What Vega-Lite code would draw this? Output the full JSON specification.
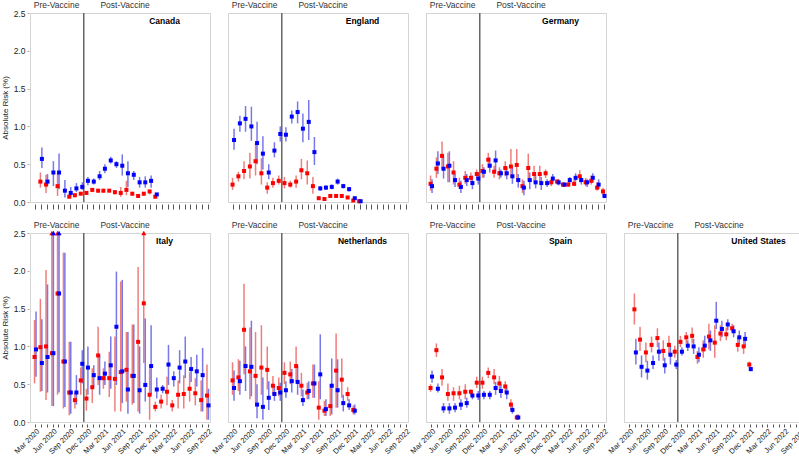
{
  "$schema": "https://vega.github.io/schema/vega-lite/v6.json",
  "padding": {"left": 1, "top": 0, "right": 0, "bottom": 0},
  "config": {
    "font": "Liberation Sans",
    "view": {"stroke": "#d4d4d4"},
    "axis": {"grid": false, "titleFontWeight": "normal", "labelColor": "#222", "titleColor": "#222"},
    "axisY": {"labelOverlap": false, "labelBound": false, "labelFlush": false}
  },
  "data": {"values": [
    {"country":"Canada","group":"A","month":"2020-04-01","risk":0.57,"lo":0.45,"hi":0.72},
    {"country":"Canada","group":"A","month":"2020-05-01","risk":0.27,"lo":0.21,"hi":0.37},
    {"country":"Canada","group":"A","month":"2020-06-01","risk":0.39,"lo":0.21,"hi":0.54},
    {"country":"Canada","group":"A","month":"2020-07-01","risk":0.39,"lo":0.17,"hi":0.64},
    {"country":"Canada","group":"A","month":"2020-08-01","risk":0.15,"lo":0.06,"hi":0.29},
    {"country":"Canada","group":"A","month":"2020-09-01","risk":0.12,"lo":0.07,"hi":0.20},
    {"country":"Canada","group":"A","month":"2020-10-01","risk":0.18,"lo":0.13,"hi":0.25},
    {"country":"Canada","group":"A","month":"2020-11-01","risk":0.20,"lo":0.16,"hi":0.26},
    {"country":"Canada","group":"A","month":"2020-12-01","risk":0.28,"lo":0.22,"hi":0.33},
    {"country":"Canada","group":"A","month":"2021-01-01","risk":0.27,"lo":0.23,"hi":0.31},
    {"country":"Canada","group":"A","month":"2021-02-01","risk":0.34,"lo":0.29,"hi":0.41},
    {"country":"Canada","group":"A","month":"2021-03-01","risk":0.44,"lo":0.38,"hi":0.50},
    {"country":"Canada","group":"A","month":"2021-04-01","risk":0.55,"lo":0.51,"hi":0.60},
    {"country":"Canada","group":"A","month":"2021-05-01","risk":0.50,"lo":0.45,"hi":0.54},
    {"country":"Canada","group":"A","month":"2021-06-01","risk":0.48,"lo":0.35,"hi":0.63},
    {"country":"Canada","group":"A","month":"2021-07-01","risk":0.38,"lo":0.20,"hi":0.54},
    {"country":"Canada","group":"A","month":"2021-08-01","risk":0.36,"lo":0.29,"hi":0.41},
    {"country":"Canada","group":"A","month":"2021-09-01","risk":0.26,"lo":0.19,"hi":0.33},
    {"country":"Canada","group":"A","month":"2021-10-01","risk":0.26,"lo":0.19,"hi":0.34},
    {"country":"Canada","group":"A","month":"2021-11-01","risk":0.28,"lo":0.19,"hi":0.35},
    {"country":"Canada","group":"A","month":"2021-12-01","risk":0.10,"lo":0.08,"hi":0.12},
    {"country":"Canada","group":"B","month":"2020-04-01","risk":0.27,"lo":0.19,"hi":0.39},
    {"country":"Canada","group":"B","month":"2020-05-01","risk":0.23,"lo":0.12,"hi":0.36},
    {"country":"Canada","group":"B","month":"2020-07-01","risk":0.21,"lo":0.08,"hi":0.39},
    {"country":"Canada","group":"B","month":"2020-09-01","risk":0.07,"lo":0.05,"hi":0.10},
    {"country":"Canada","group":"B","month":"2020-10-01","risk":0.09,"lo":0.06,"hi":0.11},
    {"country":"Canada","group":"B","month":"2020-11-01","risk":0.11,"lo":0.09,"hi":0.13},
    {"country":"Canada","group":"B","month":"2020-12-01","risk":0.12,"lo":0.10,"hi":0.14},
    {"country":"Canada","group":"B","month":"2021-01-01","risk":0.16,"lo":0.13,"hi":0.18},
    {"country":"Canada","group":"B","month":"2021-02-01","risk":0.15,"lo":0.12,"hi":0.17},
    {"country":"Canada","group":"B","month":"2021-03-01","risk":0.15,"lo":0.12,"hi":0.17},
    {"country":"Canada","group":"B","month":"2021-04-01","risk":0.15,"lo":0.13,"hi":0.17},
    {"country":"Canada","group":"B","month":"2021-05-01","risk":0.13,"lo":0.10,"hi":0.16},
    {"country":"Canada","group":"B","month":"2021-06-01","risk":0.12,"lo":0.07,"hi":0.20},
    {"country":"Canada","group":"B","month":"2021-07-01","risk":0.16,"lo":0.09,"hi":0.28},
    {"country":"Canada","group":"B","month":"2021-08-01","risk":0.11,"lo":0.08,"hi":0.13},
    {"country":"Canada","group":"B","month":"2021-09-01","risk":0.08,"lo":0.06,"hi":0.10},
    {"country":"Canada","group":"B","month":"2021-10-01","risk":0.11,"lo":0.08,"hi":0.13},
    {"country":"Canada","group":"B","month":"2021-11-01","risk":0.14,"lo":0.10,"hi":0.16},
    {"country":"Canada","group":"B","month":"2021-12-01","risk":0.07,"lo":0.05,"hi":0.08},

    {"country":"England","group":"A","month":"2020-03-01","risk":0.82,"lo":0.69,"hi":0.97},
    {"country":"England","group":"A","month":"2020-04-01","risk":1.04,"lo":0.93,"hi":1.14},
    {"country":"England","group":"A","month":"2020-05-01","risk":1.10,"lo":0.93,"hi":1.27},
    {"country":"England","group":"A","month":"2020-06-01","risk":1.00,"lo":0.81,"hi":1.26},
    {"country":"England","group":"A","month":"2020-07-01","risk":0.78,"lo":0.50,"hi":1.06},
    {"country":"England","group":"A","month":"2020-08-01","risk":0.64,"lo":0.43,"hi":0.87},
    {"country":"England","group":"A","month":"2020-09-01","risk":0.39,"lo":0.30,"hi":0.50},
    {"country":"England","group":"A","month":"2020-10-01","risk":0.68,"lo":0.59,"hi":0.79},
    {"country":"England","group":"A","month":"2020-11-01","risk":0.90,"lo":0.80,"hi":1.00},
    {"country":"England","group":"A","month":"2020-12-01","risk":0.89,"lo":0.80,"hi":0.99},
    {"country":"England","group":"A","month":"2021-01-01","risk":1.13,"lo":1.04,"hi":1.21},
    {"country":"England","group":"A","month":"2021-02-01","risk":1.19,"lo":1.04,"hi":1.33},
    {"country":"England","group":"A","month":"2021-03-01","risk":0.97,"lo":0.79,"hi":1.17},
    {"country":"England","group":"A","month":"2021-04-01","risk":1.06,"lo":0.82,"hi":1.35},
    {"country":"England","group":"A","month":"2021-05-01","risk":0.66,"lo":0.49,"hi":0.86},
    {"country":"England","group":"A","month":"2021-06-01","risk":0.18,"lo":0.15,"hi":0.21},
    {"country":"England","group":"A","month":"2021-07-01","risk":0.19,"lo":0.16,"hi":0.22},
    {"country":"England","group":"A","month":"2021-08-01","risk":0.20,"lo":0.17,"hi":0.23},
    {"country":"England","group":"A","month":"2021-09-01","risk":0.27,"lo":0.23,"hi":0.31},
    {"country":"England","group":"A","month":"2021-10-01","risk":0.21,"lo":0.18,"hi":0.24},
    {"country":"England","group":"A","month":"2021-11-01","risk":0.17,"lo":0.14,"hi":0.20},
    {"country":"England","group":"A","month":"2021-12-01","risk":0.05,"lo":0.03,"hi":0.07},
    {"country":"England","group":"A","month":"2022-01-01","risk":0.01,"lo":0.00,"hi":0.02},
    {"country":"England","group":"B","month":"2020-03-01","risk":0.23,"lo":0.16,"hi":0.32},
    {"country":"England","group":"B","month":"2020-04-01","risk":0.34,"lo":0.27,"hi":0.40},
    {"country":"England","group":"B","month":"2020-05-01","risk":0.41,"lo":0.30,"hi":0.54},
    {"country":"England","group":"B","month":"2020-06-01","risk":0.47,"lo":0.31,"hi":0.65},
    {"country":"England","group":"B","month":"2020-07-01","risk":0.54,"lo":0.35,"hi":0.78},
    {"country":"England","group":"B","month":"2020-08-01","risk":0.38,"lo":0.23,"hi":0.58},
    {"country":"England","group":"B","month":"2020-09-01","risk":0.19,"lo":0.11,"hi":0.26},
    {"country":"England","group":"B","month":"2020-10-01","risk":0.25,"lo":0.19,"hi":0.32},
    {"country":"England","group":"B","month":"2020-11-01","risk":0.28,"lo":0.23,"hi":0.35},
    {"country":"England","group":"B","month":"2020-12-01","risk":0.25,"lo":0.18,"hi":0.33},
    {"country":"England","group":"B","month":"2021-01-01","risk":0.23,"lo":0.19,"hi":0.28},
    {"country":"England","group":"B","month":"2021-02-01","risk":0.27,"lo":0.19,"hi":0.35},
    {"country":"England","group":"B","month":"2021-03-01","risk":0.42,"lo":0.30,"hi":0.57},
    {"country":"England","group":"B","month":"2021-04-01","risk":0.38,"lo":0.23,"hi":0.55},
    {"country":"England","group":"B","month":"2021-05-01","risk":0.21,"lo":0.11,"hi":0.33},
    {"country":"England","group":"B","month":"2021-06-01","risk":0.05,"lo":0.03,"hi":0.07},
    {"country":"England","group":"B","month":"2021-07-01","risk":0.04,"lo":0.03,"hi":0.05},
    {"country":"England","group":"B","month":"2021-08-01","risk":0.08,"lo":0.06,"hi":0.10},
    {"country":"England","group":"B","month":"2021-09-01","risk":0.08,"lo":0.06,"hi":0.10},
    {"country":"England","group":"B","month":"2021-10-01","risk":0.08,"lo":0.06,"hi":0.10},
    {"country":"England","group":"B","month":"2021-11-01","risk":0.06,"lo":0.04,"hi":0.08},
    {"country":"England","group":"B","month":"2021-12-01","risk":0.02,"lo":0.01,"hi":0.05},
    {"country":"England","group":"B","month":"2022-01-01","risk":0.01,"lo":0.00,"hi":0.01},

    {"country":"Germany","group":"A","month":"2020-03-01","risk":0.21,"lo":0.12,"hi":0.30},
    {"country":"Germany","group":"A","month":"2020-04-01","risk":0.51,"lo":0.37,"hi":0.67},
    {"country":"Germany","group":"A","month":"2020-05-01","risk":0.44,"lo":0.31,"hi":0.60},
    {"country":"Germany","group":"A","month":"2020-06-01","risk":0.48,"lo":0.26,"hi":0.67},
    {"country":"Germany","group":"A","month":"2020-07-01","risk":0.29,"lo":0.20,"hi":0.37},
    {"country":"Germany","group":"A","month":"2020-08-01","risk":0.20,"lo":0.12,"hi":0.28},
    {"country":"Germany","group":"A","month":"2020-09-01","risk":0.29,"lo":0.21,"hi":0.37},
    {"country":"Germany","group":"A","month":"2020-10-01","risk":0.25,"lo":0.17,"hi":0.35},
    {"country":"Germany","group":"A","month":"2020-11-01","risk":0.31,"lo":0.23,"hi":0.39},
    {"country":"Germany","group":"A","month":"2020-12-01","risk":0.40,"lo":0.32,"hi":0.46},
    {"country":"Germany","group":"A","month":"2021-01-01","risk":0.48,"lo":0.39,"hi":0.59},
    {"country":"Germany","group":"A","month":"2021-02-01","risk":0.55,"lo":0.41,"hi":0.68},
    {"country":"Germany","group":"A","month":"2021-03-01","risk":0.38,"lo":0.32,"hi":0.43},
    {"country":"Germany","group":"A","month":"2021-04-01","risk":0.38,"lo":0.30,"hi":0.46},
    {"country":"Germany","group":"A","month":"2021-05-01","risk":0.34,"lo":0.24,"hi":0.45},
    {"country":"Germany","group":"A","month":"2021-06-01","risk":0.29,"lo":0.19,"hi":0.37},
    {"country":"Germany","group":"A","month":"2021-07-01","risk":0.19,"lo":0.09,"hi":0.28},
    {"country":"Germany","group":"A","month":"2021-08-01","risk":0.29,"lo":0.17,"hi":0.39},
    {"country":"Germany","group":"A","month":"2021-09-01","risk":0.26,"lo":0.18,"hi":0.35},
    {"country":"Germany","group":"A","month":"2021-10-01","risk":0.25,"lo":0.16,"hi":0.33},
    {"country":"Germany","group":"A","month":"2021-11-01","risk":0.25,"lo":0.20,"hi":0.30},
    {"country":"Germany","group":"A","month":"2021-12-01","risk":0.31,"lo":0.26,"hi":0.37},
    {"country":"Germany","group":"A","month":"2022-01-01","risk":0.26,"lo":0.22,"hi":0.30},
    {"country":"Germany","group":"A","month":"2022-02-01","risk":0.23,"lo":0.20,"hi":0.26},
    {"country":"Germany","group":"A","month":"2022-03-01","risk":0.29,"lo":0.24,"hi":0.33},
    {"country":"Germany","group":"A","month":"2022-04-01","risk":0.32,"lo":0.27,"hi":0.38},
    {"country":"Germany","group":"A","month":"2022-05-01","risk":0.29,"lo":0.23,"hi":0.33},
    {"country":"Germany","group":"A","month":"2022-06-01","risk":0.26,"lo":0.20,"hi":0.30},
    {"country":"Germany","group":"A","month":"2022-07-01","risk":0.32,"lo":0.26,"hi":0.38},
    {"country":"Germany","group":"A","month":"2022-08-01","risk":0.23,"lo":0.17,"hi":0.30},
    {"country":"Germany","group":"A","month":"2022-09-01","risk":0.08,"lo":0.05,"hi":0.12},
    {"country":"Germany","group":"B","month":"2020-03-01","risk":0.24,"lo":0.15,"hi":0.35},
    {"country":"Germany","group":"B","month":"2020-04-01","risk":0.44,"lo":0.32,"hi":0.59},
    {"country":"Germany","group":"B","month":"2020-05-01","risk":0.61,"lo":0.43,"hi":0.80},
    {"country":"Germany","group":"B","month":"2020-06-01","risk":0.47,"lo":0.26,"hi":0.65},
    {"country":"Germany","group":"B","month":"2020-07-01","risk":0.39,"lo":0.23,"hi":0.54},
    {"country":"Germany","group":"B","month":"2020-08-01","risk":0.23,"lo":0.17,"hi":0.32},
    {"country":"Germany","group":"B","month":"2020-09-01","risk":0.32,"lo":0.24,"hi":0.41},
    {"country":"Germany","group":"B","month":"2020-10-01","risk":0.32,"lo":0.26,"hi":0.39},
    {"country":"Germany","group":"B","month":"2020-11-01","risk":0.37,"lo":0.31,"hi":0.43},
    {"country":"Germany","group":"B","month":"2020-12-01","risk":0.41,"lo":0.32,"hi":0.50},
    {"country":"Germany","group":"B","month":"2021-01-01","risk":0.56,"lo":0.45,"hi":0.65},
    {"country":"Germany","group":"B","month":"2021-02-01","risk":0.40,"lo":0.32,"hi":0.48},
    {"country":"Germany","group":"B","month":"2021-03-01","risk":0.38,"lo":0.30,"hi":0.46},
    {"country":"Germany","group":"B","month":"2021-04-01","risk":0.45,"lo":0.34,"hi":0.54},
    {"country":"Germany","group":"B","month":"2021-05-01","risk":0.47,"lo":0.32,"hi":0.70},
    {"country":"Germany","group":"B","month":"2021-06-01","risk":0.49,"lo":0.28,"hi":0.70},
    {"country":"Germany","group":"B","month":"2021-07-01","risk":0.21,"lo":0.12,"hi":0.30},
    {"country":"Germany","group":"B","month":"2021-08-01","risk":0.45,"lo":0.28,"hi":0.64},
    {"country":"Germany","group":"B","month":"2021-09-01","risk":0.37,"lo":0.26,"hi":0.48},
    {"country":"Germany","group":"B","month":"2021-10-01","risk":0.37,"lo":0.26,"hi":0.48},
    {"country":"Germany","group":"B","month":"2021-11-01","risk":0.38,"lo":0.32,"hi":0.43},
    {"country":"Germany","group":"B","month":"2021-12-01","risk":0.26,"lo":0.21,"hi":0.30},
    {"country":"Germany","group":"B","month":"2022-01-01","risk":0.27,"lo":0.23,"hi":0.30},
    {"country":"Germany","group":"B","month":"2022-02-01","risk":0.23,"lo":0.20,"hi":0.26},
    {"country":"Germany","group":"B","month":"2022-03-01","risk":0.23,"lo":0.20,"hi":0.27},
    {"country":"Germany","group":"B","month":"2022-04-01","risk":0.24,"lo":0.21,"hi":0.29},
    {"country":"Germany","group":"B","month":"2022-05-01","risk":0.34,"lo":0.26,"hi":0.42},
    {"country":"Germany","group":"B","month":"2022-06-01","risk":0.26,"lo":0.21,"hi":0.32},
    {"country":"Germany","group":"B","month":"2022-07-01","risk":0.28,"lo":0.23,"hi":0.35},
    {"country":"Germany","group":"B","month":"2022-08-01","risk":0.19,"lo":0.15,"hi":0.26},
    {"country":"Germany","group":"B","month":"2022-09-01","risk":0.14,"lo":0.09,"hi":0.19},

    {"country":"Italy","group":"A","month":"2020-03-01","risk":0.96,"lo":0.60,"hi":1.46},
    {"country":"Italy","group":"A","month":"2020-04-01","risk":0.78,"lo":0.41,"hi":1.36},
    {"country":"Italy","group":"A","month":"2020-05-01","risk":0.86,"lo":0.39,"hi":1.82},
    {"country":"Italy","group":"A","month":"2020-06-01","risk":0.91,"lo":0.21,"hi":2.8},
    {"country":"Italy","group":"A","month":"2020-07-01","risk":1.70,"lo":0.39,"hi":2.8},
    {"country":"Italy","group":"A","month":"2020-08-01","risk":0.80,"lo":0.20,"hi":2.24},
    {"country":"Italy","group":"A","month":"2020-09-01","risk":0.39,"lo":0.11,"hi":1.06},
    {"country":"Italy","group":"A","month":"2020-10-01","risk":0.39,"lo":0.23,"hi":0.62},
    {"country":"Italy","group":"A","month":"2020-11-01","risk":0.77,"lo":0.51,"hi":0.95},
    {"country":"Italy","group":"A","month":"2020-12-01","risk":0.72,"lo":0.36,"hi":1.00},
    {"country":"Italy","group":"A","month":"2021-01-01","risk":0.62,"lo":0.47,"hi":0.75},
    {"country":"Italy","group":"A","month":"2021-02-01","risk":0.58,"lo":0.36,"hi":0.89},
    {"country":"Italy","group":"A","month":"2021-03-01","risk":0.64,"lo":0.49,"hi":0.80},
    {"country":"Italy","group":"A","month":"2021-04-01","risk":0.75,"lo":0.44,"hi":1.13},
    {"country":"Italy","group":"A","month":"2021-05-01","risk":1.26,"lo":0.49,"hi":1.99},
    {"country":"Italy","group":"A","month":"2021-06-01","risk":0.67,"lo":0.25,"hi":1.88},
    {"country":"Italy","group":"A","month":"2021-07-01","risk":0.43,"lo":0.11,"hi":1.19},
    {"country":"Italy","group":"A","month":"2021-08-01","risk":0.61,"lo":0.25,"hi":1.29},
    {"country":"Italy","group":"A","month":"2021-09-01","risk":0.42,"lo":0.11,"hi":1.00},
    {"country":"Italy","group":"A","month":"2021-10-01","risk":0.49,"lo":0.27,"hi":1.37},
    {"country":"Italy","group":"A","month":"2021-11-01","risk":0.74,"lo":0.36,"hi":1.28},
    {"country":"Italy","group":"A","month":"2021-12-01","risk":0.43,"lo":0.31,"hi":0.59},
    {"country":"Italy","group":"A","month":"2022-01-01","risk":0.44,"lo":0.38,"hi":0.49},
    {"country":"Italy","group":"A","month":"2022-02-01","risk":0.76,"lo":0.49,"hi":1.02},
    {"country":"Italy","group":"A","month":"2022-03-01","risk":0.58,"lo":0.47,"hi":0.67},
    {"country":"Italy","group":"A","month":"2022-04-01","risk":0.72,"lo":0.51,"hi":0.95},
    {"country":"Italy","group":"A","month":"2022-05-01","risk":0.80,"lo":0.58,"hi":1.13},
    {"country":"Italy","group":"A","month":"2022-06-01","risk":0.70,"lo":0.53,"hi":0.86},
    {"country":"Italy","group":"A","month":"2022-07-01","risk":0.67,"lo":0.47,"hi":0.89},
    {"country":"Italy","group":"A","month":"2022-08-01","risk":0.62,"lo":0.14,"hi":0.98},
    {"country":"Italy","group":"A","month":"2022-09-01","risk":0.22,"lo":0.03,"hi":0.44},
    {"country":"Italy","group":"B","month":"2020-03-01","risk":0.86,"lo":0.51,"hi":1.35},
    {"country":"Italy","group":"B","month":"2020-04-01","risk":0.99,"lo":0.40,"hi":1.63},
    {"country":"Italy","group":"B","month":"2020-05-01","risk":1.00,"lo":0.29,"hi":2.01},
    {"country":"Italy","group":"B","month":"2020-06-01","risk":0.91,"lo":0.21,"hi":2.8},
    {"country":"Italy","group":"B","month":"2020-07-01","risk":1.70,"lo":0.36,"hi":2.8},
    {"country":"Italy","group":"B","month":"2020-08-01","risk":0.80,"lo":0.18,"hi":2.24},
    {"country":"Italy","group":"B","month":"2020-09-01","risk":0.39,"lo":0.09,"hi":1.06},
    {"country":"Italy","group":"B","month":"2020-10-01","risk":0.29,"lo":0.18,"hi":0.38},
    {"country":"Italy","group":"B","month":"2020-11-01","risk":0.55,"lo":0.36,"hi":0.72},
    {"country":"Italy","group":"B","month":"2020-12-01","risk":0.31,"lo":0.15,"hi":0.44},
    {"country":"Italy","group":"B","month":"2021-01-01","risk":0.46,"lo":0.25,"hi":0.71},
    {"country":"Italy","group":"B","month":"2021-02-01","risk":0.88,"lo":0.49,"hi":1.26},
    {"country":"Italy","group":"B","month":"2021-03-01","risk":0.58,"lo":0.44,"hi":0.71},
    {"country":"Italy","group":"B","month":"2021-04-01","risk":0.58,"lo":0.33,"hi":0.93},
    {"country":"Italy","group":"B","month":"2021-05-01","risk":0.57,"lo":0.14,"hi":1.13},
    {"country":"Italy","group":"B","month":"2021-06-01","risk":0.66,"lo":0.14,"hi":1.86},
    {"country":"Italy","group":"B","month":"2021-07-01","risk":0.69,"lo":0.27,"hi":1.19},
    {"country":"Italy","group":"B","month":"2021-08-01","risk":0.61,"lo":0.23,"hi":1.29},
    {"country":"Italy","group":"B","month":"2021-09-01","risk":1.06,"lo":0.14,"hi":2.05},
    {"country":"Italy","group":"B","month":"2021-10-01","risk":1.57,"lo":0.78,"hi":2.8},
    {"country":"Italy","group":"B","month":"2021-11-01","risk":0.36,"lo":0.03,"hi":0.71},
    {"country":"Italy","group":"B","month":"2021-12-01","risk":0.20,"lo":0.14,"hi":0.27},
    {"country":"Italy","group":"B","month":"2022-01-01","risk":0.27,"lo":0.18,"hi":0.36},
    {"country":"Italy","group":"B","month":"2022-02-01","risk":0.40,"lo":0.22,"hi":0.60},
    {"country":"Italy","group":"B","month":"2022-03-01","risk":0.22,"lo":0.14,"hi":0.29},
    {"country":"Italy","group":"B","month":"2022-04-01","risk":0.36,"lo":0.18,"hi":0.55},
    {"country":"Italy","group":"B","month":"2022-05-01","risk":0.37,"lo":0.18,"hi":0.62},
    {"country":"Italy","group":"B","month":"2022-06-01","risk":0.44,"lo":0.27,"hi":0.66},
    {"country":"Italy","group":"B","month":"2022-07-01","risk":0.38,"lo":0.22,"hi":0.58},
    {"country":"Italy","group":"B","month":"2022-08-01","risk":0.29,"lo":0.14,"hi":0.55},
    {"country":"Italy","group":"B","month":"2022-09-01","risk":0.35,"lo":0.03,"hi":0.76},

    {"country":"Netherlands","group":"A","month":"2020-03-01","risk":0.45,"lo":0.28,"hi":0.68},
    {"country":"Netherlands","group":"A","month":"2020-04-01","risk":0.54,"lo":0.36,"hi":0.81},
    {"country":"Netherlands","group":"A","month":"2020-05-01","risk":0.74,"lo":0.41,"hi":1.00},
    {"country":"Netherlands","group":"A","month":"2020-06-01","risk":0.73,"lo":0.34,"hi":1.34},
    {"country":"Netherlands","group":"A","month":"2020-07-01","risk":0.23,"lo":0.05,"hi":0.50},
    {"country":"Netherlands","group":"A","month":"2020-08-01","risk":0.20,"lo":0.03,"hi":0.59},
    {"country":"Netherlands","group":"A","month":"2020-09-01","risk":0.32,"lo":0.16,"hi":0.54},
    {"country":"Netherlands","group":"A","month":"2020-10-01","risk":0.37,"lo":0.28,"hi":0.48},
    {"country":"Netherlands","group":"A","month":"2020-11-01","risk":0.39,"lo":0.28,"hi":0.52},
    {"country":"Netherlands","group":"A","month":"2020-12-01","risk":0.42,"lo":0.32,"hi":0.54},
    {"country":"Netherlands","group":"A","month":"2021-01-01","risk":0.54,"lo":0.39,"hi":0.70},
    {"country":"Netherlands","group":"A","month":"2021-02-01","risk":0.53,"lo":0.36,"hi":0.74},
    {"country":"Netherlands","group":"A","month":"2021-03-01","risk":0.29,"lo":0.21,"hi":0.43},
    {"country":"Netherlands","group":"A","month":"2021-04-01","risk":0.41,"lo":0.30,"hi":0.54},
    {"country":"Netherlands","group":"A","month":"2021-05-01","risk":0.51,"lo":0.32,"hi":0.76},
    {"country":"Netherlands","group":"A","month":"2021-06-01","risk":0.63,"lo":0.30,"hi":1.16},
    {"country":"Netherlands","group":"A","month":"2021-07-01","risk":0.17,"lo":0.08,"hi":0.30},
    {"country":"Netherlands","group":"A","month":"2021-08-01","risk":0.48,"lo":0.10,"hi":0.84},
    {"country":"Netherlands","group":"A","month":"2021-09-01","risk":0.42,"lo":0.19,"hi":0.83},
    {"country":"Netherlands","group":"A","month":"2021-10-01","risk":0.25,"lo":0.14,"hi":0.36},
    {"country":"Netherlands","group":"A","month":"2021-11-01","risk":0.22,"lo":0.16,"hi":0.30},
    {"country":"Netherlands","group":"A","month":"2021-12-01","risk":0.15,"lo":0.10,"hi":0.23},
    {"country":"Netherlands","group":"B","month":"2020-03-01","risk":0.55,"lo":0.36,"hi":0.79},
    {"country":"Netherlands","group":"B","month":"2020-04-01","risk":0.59,"lo":0.41,"hi":0.83},
    {"country":"Netherlands","group":"B","month":"2020-05-01","risk":1.22,"lo":0.63,"hi":1.83},
    {"country":"Netherlands","group":"B","month":"2020-06-01","risk":0.67,"lo":0.30,"hi":1.25},
    {"country":"Netherlands","group":"B","month":"2020-07-01","risk":0.61,"lo":0.25,"hi":1.19},
    {"country":"Netherlands","group":"B","month":"2020-08-01","risk":0.72,"lo":0.36,"hi":1.28},
    {"country":"Netherlands","group":"B","month":"2020-09-01","risk":0.69,"lo":0.43,"hi":1.00},
    {"country":"Netherlands","group":"B","month":"2020-10-01","risk":0.48,"lo":0.36,"hi":0.61},
    {"country":"Netherlands","group":"B","month":"2020-11-01","risk":0.45,"lo":0.34,"hi":0.59},
    {"country":"Netherlands","group":"B","month":"2020-12-01","risk":0.65,"lo":0.50,"hi":0.79},
    {"country":"Netherlands","group":"B","month":"2021-01-01","risk":0.63,"lo":0.50,"hi":0.80},
    {"country":"Netherlands","group":"B","month":"2021-02-01","risk":0.74,"lo":0.54,"hi":1.00},
    {"country":"Netherlands","group":"B","month":"2021-03-01","risk":0.48,"lo":0.34,"hi":0.65},
    {"country":"Netherlands","group":"B","month":"2021-04-01","risk":0.39,"lo":0.30,"hi":0.52},
    {"country":"Netherlands","group":"B","month":"2021-05-01","risk":0.51,"lo":0.32,"hi":0.76},
    {"country":"Netherlands","group":"B","month":"2021-06-01","risk":0.19,"lo":0.03,"hi":0.54},
    {"country":"Netherlands","group":"B","month":"2021-07-01","risk":0.15,"lo":0.08,"hi":0.28},
    {"country":"Netherlands","group":"B","month":"2021-08-01","risk":0.21,"lo":0.08,"hi":0.50},
    {"country":"Netherlands","group":"B","month":"2021-09-01","risk":0.68,"lo":0.19,"hi":1.17},
    {"country":"Netherlands","group":"B","month":"2021-10-01","risk":0.56,"lo":0.32,"hi":0.84},
    {"country":"Netherlands","group":"B","month":"2021-11-01","risk":0.37,"lo":0.28,"hi":0.46},
    {"country":"Netherlands","group":"B","month":"2021-12-01","risk":0.16,"lo":0.10,"hi":0.22},

    {"country":"Spain","group":"A","month":"2020-03-01","risk":0.60,"lo":0.52,"hi":0.68},
    {"country":"Spain","group":"A","month":"2020-04-01","risk":0.44,"lo":0.39,"hi":0.51},
    {"country":"Spain","group":"A","month":"2020-05-01","risk":0.18,"lo":0.12,"hi":0.25},
    {"country":"Spain","group":"A","month":"2020-06-01","risk":0.18,"lo":0.11,"hi":0.25},
    {"country":"Spain","group":"A","month":"2020-07-01","risk":0.19,"lo":0.13,"hi":0.25},
    {"country":"Spain","group":"A","month":"2020-08-01","risk":0.23,"lo":0.16,"hi":0.30},
    {"country":"Spain","group":"A","month":"2020-09-01","risk":0.25,"lo":0.19,"hi":0.32},
    {"country":"Spain","group":"A","month":"2020-10-01","risk":0.35,"lo":0.30,"hi":0.39},
    {"country":"Spain","group":"A","month":"2020-11-01","risk":0.35,"lo":0.29,"hi":0.41},
    {"country":"Spain","group":"A","month":"2020-12-01","risk":0.36,"lo":0.30,"hi":0.41},
    {"country":"Spain","group":"A","month":"2021-01-01","risk":0.36,"lo":0.30,"hi":0.41},
    {"country":"Spain","group":"A","month":"2021-02-01","risk":0.45,"lo":0.36,"hi":0.53},
    {"country":"Spain","group":"A","month":"2021-03-01","risk":0.41,"lo":0.32,"hi":0.50},
    {"country":"Spain","group":"A","month":"2021-04-01","risk":0.39,"lo":0.30,"hi":0.45},
    {"country":"Spain","group":"A","month":"2021-05-01","risk":0.16,"lo":0.11,"hi":0.21},
    {"country":"Spain","group":"A","month":"2021-06-01","risk":0.06,"lo":0.03,"hi":0.10},
    {"country":"Spain","group":"B","month":"2020-03-01","risk":0.45,"lo":0.40,"hi":0.50},
    {"country":"Spain","group":"B","month":"2020-04-01","risk":0.95,"lo":0.86,"hi":1.04},
    {"country":"Spain","group":"B","month":"2020-05-01","risk":0.59,"lo":0.48,"hi":0.70},
    {"country":"Spain","group":"B","month":"2020-06-01","risk":0.37,"lo":0.28,"hi":0.51},
    {"country":"Spain","group":"B","month":"2020-07-01","risk":0.38,"lo":0.28,"hi":0.46},
    {"country":"Spain","group":"B","month":"2020-08-01","risk":0.38,"lo":0.30,"hi":0.48},
    {"country":"Spain","group":"B","month":"2020-09-01","risk":0.40,"lo":0.30,"hi":0.50},
    {"country":"Spain","group":"B","month":"2020-10-01","risk":0.40,"lo":0.36,"hi":0.43},
    {"country":"Spain","group":"B","month":"2020-11-01","risk":0.52,"lo":0.45,"hi":0.60},
    {"country":"Spain","group":"B","month":"2020-12-01","risk":0.52,"lo":0.44,"hi":0.60},
    {"country":"Spain","group":"B","month":"2021-01-01","risk":0.65,"lo":0.58,"hi":0.72},
    {"country":"Spain","group":"B","month":"2021-02-01","risk":0.59,"lo":0.50,"hi":0.70},
    {"country":"Spain","group":"B","month":"2021-03-01","risk":0.51,"lo":0.42,"hi":0.61},
    {"country":"Spain","group":"B","month":"2021-04-01","risk":0.47,"lo":0.39,"hi":0.54},
    {"country":"Spain","group":"B","month":"2021-05-01","risk":0.23,"lo":0.16,"hi":0.30},
    {"country":"Spain","group":"B","month":"2021-06-01","risk":0.06,"lo":0.03,"hi":0.10},

    {"country":"United States","group":"A","month":"2020-04-01","risk":0.92,"lo":0.76,"hi":1.10},
    {"country":"United States","group":"A","month":"2020-05-01","risk":0.73,"lo":0.59,"hi":0.88},
    {"country":"United States","group":"A","month":"2020-06-01","risk":0.68,"lo":0.56,"hi":0.81},
    {"country":"United States","group":"A","month":"2020-07-01","risk":0.78,"lo":0.70,"hi":0.88},
    {"country":"United States","group":"A","month":"2020-08-01","risk":0.93,"lo":0.81,"hi":1.05},
    {"country":"United States","group":"A","month":"2020-09-01","risk":0.75,"lo":0.64,"hi":0.85},
    {"country":"United States","group":"A","month":"2020-10-01","risk":0.89,"lo":0.76,"hi":1.01},
    {"country":"United States","group":"A","month":"2020-11-01","risk":0.76,"lo":0.70,"hi":0.82},
    {"country":"United States","group":"A","month":"2020-12-01","risk":0.93,"lo":0.88,"hi":0.99},
    {"country":"United States","group":"A","month":"2021-01-01","risk":1.01,"lo":0.94,"hi":1.08},
    {"country":"United States","group":"A","month":"2021-02-01","risk":1.00,"lo":0.90,"hi":1.10},
    {"country":"United States","group":"A","month":"2021-03-01","risk":0.89,"lo":0.79,"hi":0.99},
    {"country":"United States","group":"A","month":"2021-04-01","risk":1.01,"lo":0.94,"hi":1.14},
    {"country":"United States","group":"A","month":"2021-05-01","risk":1.08,"lo":0.94,"hi":1.21},
    {"country":"United States","group":"A","month":"2021-06-01","risk":1.34,"lo":1.23,"hi":1.59},
    {"country":"United States","group":"A","month":"2021-07-01","risk":1.23,"lo":1.12,"hi":1.34},
    {"country":"United States","group":"A","month":"2021-08-01","risk":1.29,"lo":1.21,"hi":1.36},
    {"country":"United States","group":"A","month":"2021-09-01","risk":1.20,"lo":1.12,"hi":1.28},
    {"country":"United States","group":"A","month":"2021-10-01","risk":1.12,"lo":1.03,"hi":1.21},
    {"country":"United States","group":"A","month":"2021-11-01","risk":1.10,"lo":0.99,"hi":1.19},
    {"country":"United States","group":"A","month":"2021-12-01","risk":0.70,"lo":0.67,"hi":0.73},
    {"country":"United States","group":"B","month":"2020-04-01","risk":1.49,"lo":1.29,"hi":1.70},
    {"country":"United States","group":"B","month":"2020-05-01","risk":1.09,"lo":0.94,"hi":1.26},
    {"country":"United States","group":"B","month":"2020-06-01","risk":0.92,"lo":0.79,"hi":1.05},
    {"country":"United States","group":"B","month":"2020-07-01","risk":1.02,"lo":0.92,"hi":1.13},
    {"country":"United States","group":"B","month":"2020-08-01","risk":1.11,"lo":0.99,"hi":1.24},
    {"country":"United States","group":"B","month":"2020-09-01","risk":0.94,"lo":0.81,"hi":1.08},
    {"country":"United States","group":"B","month":"2020-10-01","risk":1.02,"lo":0.90,"hi":1.14},
    {"country":"United States","group":"B","month":"2020-11-01","risk":0.93,"lo":0.85,"hi":1.01},
    {"country":"United States","group":"B","month":"2020-12-01","risk":1.06,"lo":0.99,"hi":1.14},
    {"country":"United States","group":"B","month":"2021-01-01","risk":1.12,"lo":1.04,"hi":1.19},
    {"country":"United States","group":"B","month":"2021-02-01","risk":1.14,"lo":1.04,"hi":1.25},
    {"country":"United States","group":"B","month":"2021-03-01","risk":0.86,"lo":0.77,"hi":0.94},
    {"country":"United States","group":"B","month":"2021-04-01","risk":0.96,"lo":0.85,"hi":1.08},
    {"country":"United States","group":"B","month":"2021-05-01","risk":1.13,"lo":0.96,"hi":1.30},
    {"country":"United States","group":"B","month":"2021-06-01","risk":1.05,"lo":0.85,"hi":1.28},
    {"country":"United States","group":"B","month":"2021-07-01","risk":1.17,"lo":1.07,"hi":1.28},
    {"country":"United States","group":"B","month":"2021-08-01","risk":1.16,"lo":1.08,"hi":1.25},
    {"country":"United States","group":"B","month":"2021-09-01","risk":1.24,"lo":1.19,"hi":1.30},
    {"country":"United States","group":"B","month":"2021-10-01","risk":1.02,"lo":0.93,"hi":1.12},
    {"country":"United States","group":"B","month":"2021-11-01","risk":1.00,"lo":0.90,"hi":1.08},
    {"country":"United States","group":"B","month":"2021-12-01","risk":0.76,"lo":0.72,"hi":0.80}
  ]},
  "vconcat": [
    {
      "transform": [{"filter": "indexof(['Canada', 'England', 'Germany'], datum.country) >= 0"}],
      "facet": {"column": {"field": "country", "type": "nominal", "header": null, "sort": ["Canada", "England", "Germany"]}},
      "spacing": 16,
      "spec": {
        "width": 180,
        "height": 189,
        "layer": [
          {
            "transform": [{"filter": "datum.group == 'B'"}],
            "mark": {"type": "rule", "clip": true, "xOffset": -0.75, "strokeWidth": 1.5, "color": "#e53935", "opacity": 0.65},
            "encoding": {
              "x": {"field": "month", "type": "temporal",
                "scale": {"domain": [{"year": 2020, "month": 2, "date": 2}, {"year": 2022, "month": 9, "date": 13}], "nice": false},
                "axis": {"title": null, "labels": false, "domain": false, "tickCount": {"interval": "month", "step": 1}, "tickSize": 5, "tickColor": "#555"}},
              "y": {"field": "lo", "type": "quantitative", "title": "Absolute Risk (%)",
                "scale": {"domain": [0, 2.5], "nice": false},
                "axis": {"title": "Absolute Risk (%)", "values": [0, 0.5, 1, 1.5, 2, 2.5], "format": ".1f", "labelOverlap": false, "domain": false, "tickSize": 2, "tickColor": "#aaa", "labelFontSize": 8.5, "titleFontSize": 8, "labelPadding": 2, "titlePadding": 4}},
              "y2": {"field": "hi"}
            }
          },
          {
            "transform": [{"filter": "datum.group == 'A'"}],
            "mark": {"type": "rule", "clip": true, "xOffset": 0.75, "strokeWidth": 1.5, "color": "#3030dd", "opacity": 0.65},
            "encoding": {
              "x": {"field": "month", "type": "temporal"},
              "y": {"field": "lo", "type": "quantitative", "title": "Absolute Risk (%)",
                "axis": {"title": "Absolute Risk (%)", "values": [0, 0.5, 1, 1.5, 2, 2.5], "format": ".1f", "labelOverlap": false, "domain": false, "tickSize": 2, "tickColor": "#aaa", "labelFontSize": 8.5, "titleFontSize": 8, "labelPadding": 2, "titlePadding": 4}},
              "y2": {"field": "hi"}
            }
          },
          {
            "transform": [{"aggregate": [{"op": "count", "as": "n"}], "groupby": ["country"]}],
            "mark": {"type": "rule", "color": "#666", "strokeWidth": 1.5},
            "encoding": {"x": {"datum": {"year": 2020, "month": 11, "date": 13}, "type": "temporal"}}
          },
          {
            "transform": [{"filter": "datum.group == 'B'"}],
            "mark": {"type": "square", "size": 16, "color": "#ff0000", "opacity": 1, "xOffset": -0.75},
            "encoding": {
              "x": {"field": "month", "type": "temporal"},
              "y": {"field": "risk", "type": "quantitative", "title": "Absolute Risk (%)",
                "axis": {"title": "Absolute Risk (%)", "values": [0, 0.5, 1, 1.5, 2, 2.5], "format": ".1f", "labelOverlap": false, "domain": false, "tickSize": 2, "tickColor": "#aaa", "labelFontSize": 8.5, "titleFontSize": 8, "labelPadding": 2, "titlePadding": 4}}
            }
          },
          {
            "transform": [{"filter": "datum.group == 'A'"}],
            "mark": {"type": "square", "size": 16, "color": "#0000ff", "opacity": 1, "xOffset": 0.75},
            "encoding": {
              "x": {"field": "month", "type": "temporal"},
              "y": {"field": "risk", "type": "quantitative", "title": "Absolute Risk (%)",
                "axis": {"title": "Absolute Risk (%)", "values": [0, 0.5, 1, 1.5, 2, 2.5], "format": ".1f", "labelOverlap": false, "domain": false, "tickSize": 2, "tickColor": "#aaa", "labelFontSize": 8.5, "titleFontSize": 8, "labelPadding": 2, "titlePadding": 4}}
            }
          },
          {
            "transform": [{"aggregate": [{"op": "count", "as": "n"}], "groupby": ["country"]}],
            "mark": {"type": "text", "text": "Pre-Vaccine", "fontSize": 8.5, "color": "#333"},
            "encoding": {
              "x": {"datum": {"year": 2020, "month": 6, "date": 22}, "type": "temporal"},
              "y": {"datum": 2.6, "type": "quantitative",
                "axis": {"title": "Absolute Risk (%)", "values": [0, 0.5, 1, 1.5, 2, 2.5], "format": ".1f", "labelOverlap": false, "domain": false, "tickSize": 2, "tickColor": "#aaa", "labelFontSize": 8.5, "titleFontSize": 8, "labelPadding": 2, "titlePadding": 4}}
            }
          },
          {
            "transform": [{"aggregate": [{"op": "count", "as": "n"}], "groupby": ["country"]}],
            "mark": {"type": "text", "text": "Post-Vaccine", "fontSize": 8.5, "color": "#333"},
            "encoding": {
              "x": {"datum": {"year": 2021, "month": 6, "date": 20}, "type": "temporal"},
              "y": {"datum": 2.6, "type": "quantitative",
                "axis": {"title": "Absolute Risk (%)", "values": [0, 0.5, 1, 1.5, 2, 2.5], "format": ".1f", "labelOverlap": false, "domain": false, "tickSize": 2, "tickColor": "#aaa", "labelFontSize": 8.5, "titleFontSize": 8, "labelPadding": 2, "titlePadding": 4}}
            }
          },
          {
            "transform": [{"aggregate": [{"op": "count", "as": "n"}], "groupby": ["country"]}],
            "mark": {"type": "text", "fontSize": 8.5, "fontWeight": "bold", "color": "#000"},
            "encoding": {
              "x": {"datum": {"year": 2022, "month": 1, "date": 15}, "type": "temporal"},
              "y": {"datum": 2.4, "type": "quantitative",
                "axis": {"title": "Absolute Risk (%)", "values": [0, 0.5, 1, 1.5, 2, 2.5], "format": ".1f", "labelOverlap": false, "domain": false, "tickSize": 2, "tickColor": "#aaa", "labelFontSize": 8.5, "titleFontSize": 8, "labelPadding": 2, "titlePadding": 4}},
              "text": {"field": "country", "type": "nominal"}
            }
          }
        ]
      }
    },
    {
      "transform": [{"filter": "indexof(['Italy', 'Netherlands', 'Spain', 'United States'], datum.country) >= 0"}],
      "facet": {"column": {"field": "country", "type": "nominal", "header": null, "sort": ["Italy", "Netherlands", "Spain", "United States"]}},
      "spacing": 16,
      "spec": {
        "width": 180,
        "height": 189,
        "layer": [
          {
            "transform": [{"filter": "datum.group == 'B'"}],
            "mark": {"type": "rule", "clip": true, "xOffset": -0.75, "strokeWidth": 1.5, "color": "#e53935", "opacity": 0.65},
            "encoding": {
              "x": {"field": "month", "type": "temporal",
                "scale": {"domain": [{"year": 2020, "month": 2, "date": 2}, {"year": 2022, "month": 9, "date": 13}], "nice": false},
                "axis": {"title": null, "domain": false, "tickCount": {"interval": "month", "step": 1}, "tickSize": 3, "tickColor": "#555",
                  "labelExpr": "month(datum.value) % 3 == 2 ? timeFormat(datum.value, '%b %Y') : ''",
                  "labelAngle": -45, "labelAlign": "right", "labelBaseline": "top", "labelFontSize": 7.5, "labelPadding": 0,
                  "labelOverlap": false, "labelBound": false, "labelFlush": false}},
              "y": {"field": "lo", "type": "quantitative", "title": "Absolute Risk (%)",
                "scale": {"domain": [0, 2.5], "nice": false},
                "axis": {"title": "Absolute Risk (%)", "values": [0, 0.5, 1, 1.5, 2, 2.5], "format": ".1f", "labelOverlap": false, "domain": false, "tickSize": 2, "tickColor": "#aaa", "labelFontSize": 8.5, "titleFontSize": 8, "labelPadding": 2, "titlePadding": 4}},
              "y2": {"field": "hi"}
            }
          },
          {
            "transform": [{"filter": "datum.group == 'A'"}],
            "mark": {"type": "rule", "clip": true, "xOffset": 0.75, "strokeWidth": 1.5, "color": "#3030dd", "opacity": 0.65},
            "encoding": {
              "x": {"field": "month", "type": "temporal"},
              "y": {"field": "lo", "type": "quantitative", "title": "Absolute Risk (%)",
                "axis": {"title": "Absolute Risk (%)", "values": [0, 0.5, 1, 1.5, 2, 2.5], "format": ".1f", "labelOverlap": false, "domain": false, "tickSize": 2, "tickColor": "#aaa", "labelFontSize": 8.5, "titleFontSize": 8, "labelPadding": 2, "titlePadding": 4}},
              "y2": {"field": "hi"}
            }
          },
          {
            "transform": [{"aggregate": [{"op": "count", "as": "n"}], "groupby": ["country"]}],
            "mark": {"type": "rule", "color": "#666", "strokeWidth": 1.5},
            "encoding": {"x": {"datum": {"year": 2020, "month": 11, "date": 13}, "type": "temporal"}}
          },
          {
            "transform": [{"filter": "datum.group == 'B'"}],
            "mark": {"type": "square", "size": 16, "color": "#ff0000", "opacity": 1, "xOffset": -0.75},
            "encoding": {
              "x": {"field": "month", "type": "temporal"},
              "y": {"field": "risk", "type": "quantitative", "title": "Absolute Risk (%)",
                "axis": {"title": "Absolute Risk (%)", "values": [0, 0.5, 1, 1.5, 2, 2.5], "format": ".1f", "labelOverlap": false, "domain": false, "tickSize": 2, "tickColor": "#aaa", "labelFontSize": 8.5, "titleFontSize": 8, "labelPadding": 2, "titlePadding": 4}}
            }
          },
          {
            "transform": [{"filter": "datum.group == 'A'"}],
            "mark": {"type": "square", "size": 16, "color": "#0000ff", "opacity": 1, "xOffset": 0.75},
            "encoding": {
              "x": {"field": "month", "type": "temporal"},
              "y": {"field": "risk", "type": "quantitative", "title": "Absolute Risk (%)",
                "axis": {"title": "Absolute Risk (%)", "values": [0, 0.5, 1, 1.5, 2, 2.5], "format": ".1f", "labelOverlap": false, "domain": false, "tickSize": 2, "tickColor": "#aaa", "labelFontSize": 8.5, "titleFontSize": 8, "labelPadding": 2, "titlePadding": 4}}
            }
          },
          {
            "transform": [{"filter": "datum.group == 'B' && datum.hi > 2.5"}],
            "mark": {"type": "point", "shape": "triangle-up", "filled": true, "size": 26, "color": "#ff0000", "opacity": 1, "xOffset": -0.75},
            "encoding": {
              "x": {"field": "month", "type": "temporal"},
              "y": {"datum": 2.5, "type": "quantitative",
                "axis": {"title": "Absolute Risk (%)", "values": [0, 0.5, 1, 1.5, 2, 2.5], "format": ".1f", "labelOverlap": false, "domain": false, "tickSize": 2, "tickColor": "#aaa", "labelFontSize": 8.5, "titleFontSize": 8, "labelPadding": 2, "titlePadding": 4}}
            }
          },
          {
            "transform": [{"filter": "datum.group == 'A' && datum.hi > 2.5"}],
            "mark": {"type": "point", "shape": "triangle-up", "filled": true, "size": 26, "color": "#0000ff", "opacity": 1, "xOffset": 0.75},
            "encoding": {
              "x": {"field": "month", "type": "temporal"},
              "y": {"datum": 2.5, "type": "quantitative",
                "axis": {"title": "Absolute Risk (%)", "values": [0, 0.5, 1, 1.5, 2, 2.5], "format": ".1f", "labelOverlap": false, "domain": false, "tickSize": 2, "tickColor": "#aaa", "labelFontSize": 8.5, "titleFontSize": 8, "labelPadding": 2, "titlePadding": 4}}
            }
          },
          {
            "transform": [{"aggregate": [{"op": "count", "as": "n"}], "groupby": ["country"]}],
            "mark": {"type": "text", "text": "Pre-Vaccine", "fontSize": 8.5, "color": "#333"},
            "encoding": {
              "x": {"datum": {"year": 2020, "month": 6, "date": 22}, "type": "temporal"},
              "y": {"datum": 2.6, "type": "quantitative",
                "axis": {"title": "Absolute Risk (%)", "values": [0, 0.5, 1, 1.5, 2, 2.5], "format": ".1f", "labelOverlap": false, "domain": false, "tickSize": 2, "tickColor": "#aaa", "labelFontSize": 8.5, "titleFontSize": 8, "labelPadding": 2, "titlePadding": 4}}
            }
          },
          {
            "transform": [{"aggregate": [{"op": "count", "as": "n"}], "groupby": ["country"]}],
            "mark": {"type": "text", "text": "Post-Vaccine", "fontSize": 8.5, "color": "#333"},
            "encoding": {
              "x": {"datum": {"year": 2021, "month": 6, "date": 20}, "type": "temporal"},
              "y": {"datum": 2.6, "type": "quantitative",
                "axis": {"title": "Absolute Risk (%)", "values": [0, 0.5, 1, 1.5, 2, 2.5], "format": ".1f", "labelOverlap": false, "domain": false, "tickSize": 2, "tickColor": "#aaa", "labelFontSize": 8.5, "titleFontSize": 8, "labelPadding": 2, "titlePadding": 4}}
            }
          },
          {
            "transform": [{"aggregate": [{"op": "count", "as": "n"}], "groupby": ["country"]}],
            "mark": {"type": "text", "fontSize": 8.5, "fontWeight": "bold", "color": "#000"},
            "encoding": {
              "x": {"datum": {"year": 2022, "month": 1, "date": 15}, "type": "temporal"},
              "y": {"datum": 2.4, "type": "quantitative",
                "axis": {"title": "Absolute Risk (%)", "values": [0, 0.5, 1, 1.5, 2, 2.5], "format": ".1f", "labelOverlap": false, "domain": false, "tickSize": 2, "tickColor": "#aaa", "labelFontSize": 8.5, "titleFontSize": 8, "labelPadding": 2, "titlePadding": 4}},
              "text": {"field": "country", "type": "nominal"}
            }
          }
        ]
      }
    }
  ],
  "spacing": 10
}
